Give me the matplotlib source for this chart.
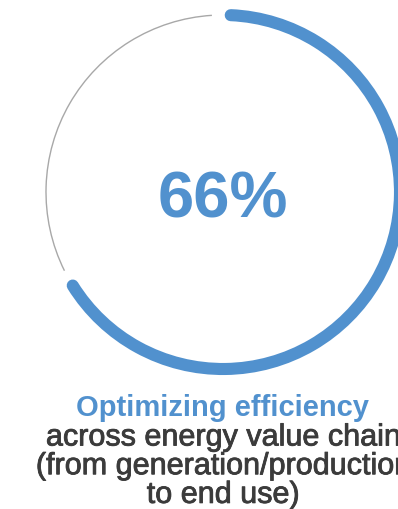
import matplotlib.pyplot as plt
import matplotlib.patheffects as pe
from matplotlib.patches import Arc

# Share of the value chain covered
share_pct = 66
headline = "Optimizing efficiency"
caption_lines = ["across energy value chain",
                 "(from generation/production",
                 "to end use)"]

blue = "#5191CE"
grey = "#a8a8a8"
dark = "#3b3b3b"
font = "Liberation Sans"

W, H = 398, 509
fig = plt.figure(figsize=(W / 100, H / 100), dpi=100)
ax = fig.add_axes([0, 0, 1, 1])
ax.set_xlim(0, W)
ax.set_ylim(0, H)
ax.set_aspect("equal")
ax.axis("off")

cx, cy, r = 223, H - 192, 177
start = 2.5                      # degrees clockwise from 12 o'clock
sweep = share_pct / 100 * 360 - 2
gap = 5.5

# progress arc (clockwise from the top)
a_end = start + sweep
prog = Arc((cx, cy), 2 * r, 2 * r, theta1=90 - a_end, theta2=90 - start,
           color=blue, lw=8.7)
prog.set_capstyle("round")
ax.add_patch(prog)

# remaining part of the ring
rest = Arc((cx, cy), 2 * r, 2 * r, theta1=90 - (360 - 3.6), theta2=90 - (a_end + gap),
           color=grey, lw=1.0)
ax.add_patch(rest)

ax.text(cx, H - 217, f"{share_pct}%", ha="center", va="baseline",
        fontsize=47, fontweight="bold", color=blue, family=font)

ax.text(cx, H - 416, headline, ha="center", va="baseline",
        fontsize=21, fontweight="bold", color=blue, family=font)

# slightly heavier strokes for the caption lines
medium = [pe.withStroke(linewidth=0.6, foreground=dark)]
for i, line in enumerate(caption_lines):
    ax.text(cx, H - 445.5 - i * 28.7, line, ha="center", va="baseline",
            fontsize=22, color=dark, family=font, path_effects=medium)

fig.savefig("out.png", dpi=100)
